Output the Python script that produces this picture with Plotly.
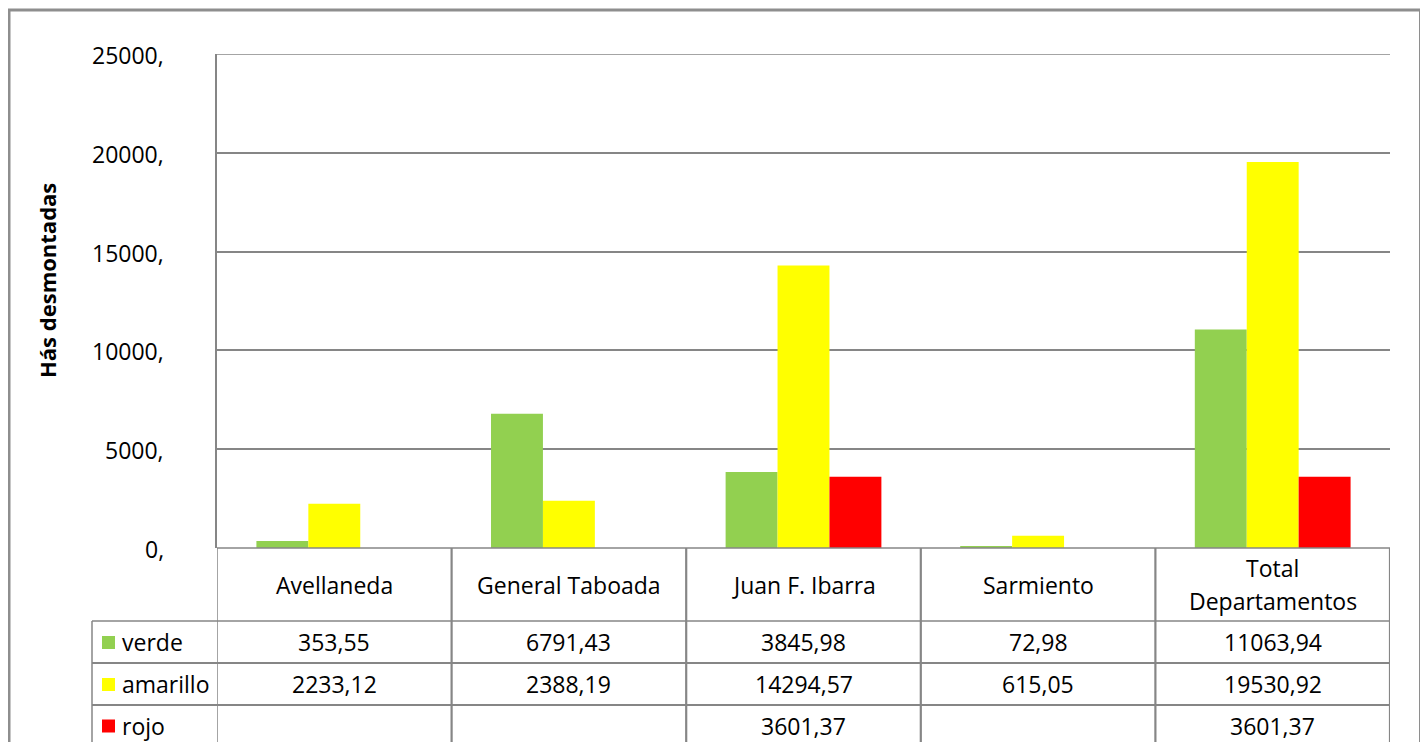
import plotly.graph_objects as go

categories = ["Avellaneda", "General Taboada", "Juan F. Ibarra", "Sarmiento", "Total<br>Departamentos"]
series_names = ["verde", "amarillo", "rojo"]
verde = [353.55, 6791.43, 3845.98, 72.98, 11063.94]
amarillo = [2233.12, 2388.19, 14294.57, 615.05, 19530.92]
rojo = [None, None, 3601.37, None, 3601.37]
colors = ["#92D050", "#FFFF00", "#FF0000"]
y_tick_vals = [0, 5000, 10000, 15000, 20000, 25000]
y_tick_text = ["0,", "5000,", "10000,", "15000,", "20000,", "25000,"]
y_title = "Hás desmontadas"

W, H = 1428, 742
OX, OY = 8, 8  # page body offset
FONT = "Open Sans"
FS = 23
GRID = "#868686"


def py(p):
    return 1 - (p - OY) / H


def px(p):
    return (p - OX) / W


xs = list(range(len(categories)))
fig = go.Figure()
for name, vals, col in zip(series_names, [verde, amarillo, rojo], colors):
    fig.add_trace(go.Bar(x=xs, y=vals, name=name, marker=dict(color=col, line=dict(width=0)),
                         showlegend=False))

plot_top, plot_bot = 54, 548
fig.update_layout(
    width=W, height=H, margin=dict(l=0, r=0, t=0, b=0, autoexpand=False),
    paper_bgcolor="white", plot_bgcolor="white",
    barmode="group", bargap=0.336, bargroupgap=0,
    font=dict(family=FONT, size=FS, color="black"),
    xaxis=dict(domain=[px(217), px(1390)], range=[-0.5, len(categories) - 0.5], automargin=False,
               showticklabels=False, showgrid=False, zeroline=False, showline=False, fixedrange=True),
    yaxis=dict(domain=[py(plot_bot), py(plot_top)], range=[0, 25000], automargin=False,
               tickvals=y_tick_vals, showticklabels=False,
               showgrid=True, gridcolor=GRID, gridwidth=1.5,
               zeroline=False, showline=True, linecolor=GRID, linewidth=1.5, ticks=""),
)

shapes = []
ann = []
line = dict(color=GRID, width=1.5)
line2 = dict(color=GRID, width=2.2)

# y tick labels
for v, t in zip(y_tick_vals, y_tick_text):
    ann.append(dict(x=px(166), y=v, xref="paper", yref="y", text=t, showarrow=False,
                    xanchor="right", yanchor="middle", yshift=-1, font=dict(size=FS, family=FONT)))

# top gridline of plot area
shapes.append(dict(type="line", xref="x", yref="y", x0=-0.5, x1=len(categories) - 0.5,
                   y0=y_tick_vals[-1], y1=y_tick_vals[-1], line=line, layer="below"))

# table horizontal lines
header_top, header_bot = 548, 621
row_edges = [621, 663, 705, 742]
shapes.append(dict(type="line", xref="x", yref="paper", x0=-0.5, x1=len(categories) - 0.5,
                   y0=py(header_top), y1=py(header_top), line=line))
for i, yy in enumerate(row_edges[:3]):
    shapes.append(dict(type="line", xref="paper", yref="paper", x0=px(92), x1=px(1390),
                       y0=py(yy), y1=py(yy), line=line if i == 0 else line2))
# vertical lines
for k in range(len(categories) + 1):
    shapes.append(dict(type="line", xref="x", yref="paper", x0=k - 0.5, x1=k - 0.5,
                       y0=py(header_top), y1=py(H + 20), line=line2 if k > 0 else line))
shapes.append(dict(type="line", xref="paper", yref="paper", x0=px(92), x1=px(92),
                   y0=py(header_bot), y1=py(H + 20), line=line))

# header labels
for i, cat in enumerate(categories):
    parts = cat.split("<br>")
    n = len(parts)
    center = (header_top + header_bot) / 2
    for j, p in enumerate(parts):
        yy = center + (j - (n - 1) / 2) * 33
        ann.append(dict(x=i, y=py(yy), xref="x", yref="paper", text=p, showarrow=False,
                        xanchor="center", yanchor="middle", font=dict(size=FS, family=FONT)))

# data rows
for r, (name, vals, col) in enumerate(zip(series_names, [verde, amarillo, rojo], colors)):
    yc = (row_edges[r] + row_edges[r + 1]) / 2 + (0 if r < 2 else 2)
    shapes.append(dict(type="rect", xref="paper", yref="paper", x0=px(102), x1=px(115),
                       y0=py(yc - 6), y1=py(yc + 7), fillcolor=col, line=dict(width=0)))
    ann.append(dict(x=px(120), y=py(yc), xref="paper", yref="paper", text=name, showarrow=False,
                    xanchor="left", yanchor="middle", font=dict(size=FS, family=FONT)))
    for i, v in enumerate(vals):
        if v is None:
            continue
        ann.append(dict(x=i, y=py(yc), xref="x", yref="paper",
                        text=f"{v:.2f}".replace(".", ","), showarrow=False,
                        xanchor="center", yanchor="middle", font=dict(size=FS, family=FONT)))

# y-axis title
ann.append(dict(x=px(47), y=py(281), xref="paper", yref="paper", text=f"<b>{y_title}</b>",
                showarrow=False, textangle=-90, xanchor="center", yanchor="middle",
                font=dict(size=22, family=FONT, color="black")))

# outer border
shapes.append(dict(type="rect", xref="paper", yref="paper", x0=px(9), x1=px(1420.5),
                   y0=py(H + 20), y1=py(10), line=dict(color="#8e8e8e", width=3),
                   fillcolor="rgba(0,0,0,0)"))

fig.update_layout(shapes=shapes, annotations=ann)
fig.write_html("out.html")
